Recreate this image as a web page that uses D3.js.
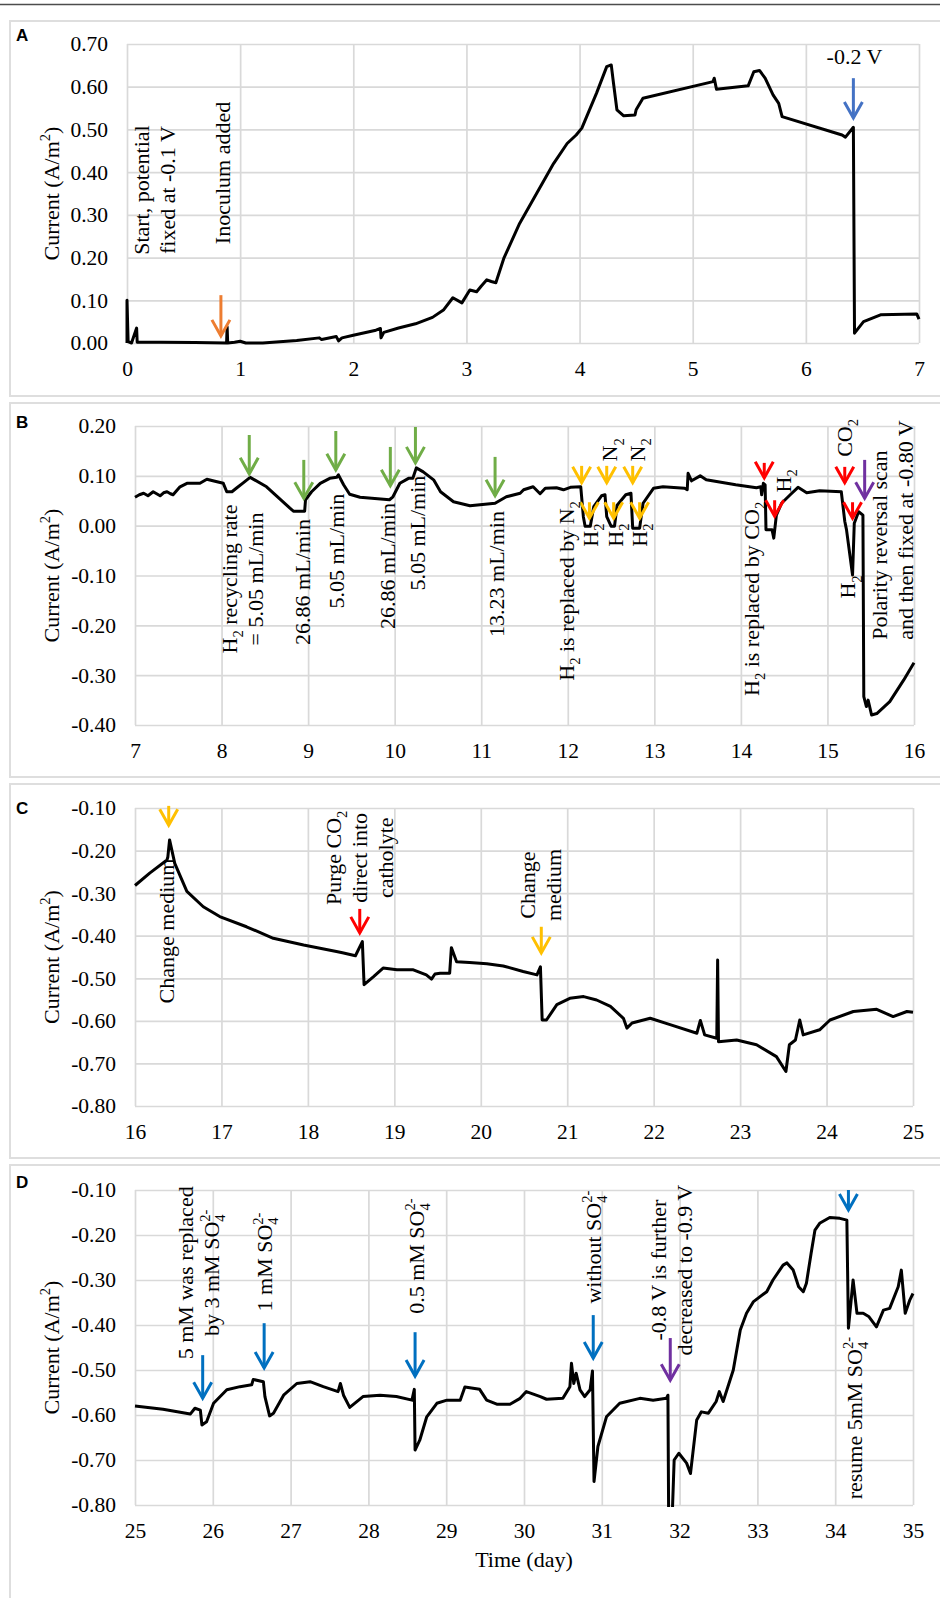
<!DOCTYPE html>
<html>
<head>
<meta charset="utf-8">
<script src="https://cdn.jsdelivr.net/npm/d3@7"></script>
<style>
  html, body { margin: 0; padding: 0; background: #fff; }
  svg { display: block; }
</style>
</head>
<body>
<script>
// ---------- Panel A: start-up (days 0-7) ----------
const aDays = [0, 0.0, 0.01, 0.04, 0.085, 0.09, 0.3, 0.6, 0.88, 0.885, 0.89, 0.95, 1.0, 1.05, 1.2, 1.5, 1.7, 1.72, 1.85, 1.87, 1.9, 2.0, 2.2, 2.24, 2.245, 2.27, 2.4, 2.55, 2.7, 2.8, 2.88, 2.96, 3.03, 3.09, 3.13, 3.18, 3.22, 3.26, 3.33, 3.47, 3.62, 3.77, 3.89, 3.97, 4.02, 4.15, 4.24, 4.28, 4.30, 4.33, 4.39, 4.49, 4.50, 4.56, 5.18, 5.19, 5.21, 5.49, 5.54, 5.59, 5.64, 5.71, 5.76, 5.79, 6.32, 6.35, 6.42, 6.43, 6.51, 6.66, 6.98, 7.0];
const aCurrent = [0, 0.10, 0.003, 0.0, 0.035, 0.002, 0.002, 0.001, 0.0, 0.038, 0.0, 0.002, 0.004, 0.0, 0.0, 0.006, 0.012, 0.008, 0.015, 0.005, 0.012, 0.018, 0.03, 0.034, 0.012, 0.025, 0.035, 0.045, 0.06, 0.078, 0.106, 0.094, 0.124, 0.12, 0.133, 0.148, 0.144, 0.141, 0.198, 0.28, 0.35, 0.42, 0.467, 0.487, 0.503, 0.585, 0.647, 0.651, 0.608, 0.546, 0.532, 0.534, 0.546, 0.573, 0.612, 0.62, 0.594, 0.602, 0.635, 0.638, 0.62, 0.581, 0.561, 0.53, 0.487, 0.482, 0.505, 0.023, 0.05, 0.066, 0.068, 0.056];

// ---------- Panel B: gas-recycling tests (days 7-16) ----------
const bDays = [7.0, 7.05, 7.1, 7.15, 7.21, 7.25, 7.29, 7.33, 7.37, 7.41, 7.44, 7.52, 7.6, 7.75, 7.83, 7.9, 8.02, 8.06, 8.12, 8.17, 8.25, 8.33, 8.52, 8.79, 8.83, 8.96, 8.97, 9.04, 9.14, 9.25, 9.33, 9.35, 9.41, 9.48, 9.6, 9.94, 9.98, 10.06, 10.16, 10.21, 10.25, 10.33, 10.45, 10.53, 10.68, 10.87, 11.16, 11.29, 11.45, 11.49, 11.6, 11.68, 11.74, 11.87, 11.95, 12.03, 12.15, 12.18, 12.2, 12.26, 12.3, 12.39, 12.43, 12.45, 12.5, 12.54, 12.57, 12.67, 12.73, 12.75, 12.83, 12.87, 12.99, 13.1, 13.35, 13.38, 13.39, 13.43, 13.53, 13.6, 13.94, 14.18, 14.23, 14.24, 14.26, 14.28, 14.29, 14.36, 14.38, 14.41, 14.47, 14.57, 14.66, 14.76, 14.91, 15.16, 15.2, 15.22, 15.29, 15.31, 15.36, 15.41, 15.42, 15.45, 15.47, 15.51, 15.57, 15.72, 15.88, 16.0];
const bCurrent = [0.057, 0.062, 0.065, 0.06, 0.068, 0.064, 0.06, 0.066, 0.068, 0.064, 0.062, 0.078, 0.085, 0.085, 0.093, 0.09, 0.085, 0.068, 0.068, 0.075, 0.086, 0.097, 0.078, 0.035, 0.029, 0.029, 0.052, 0.068, 0.085, 0.095, 0.097, 0.102, 0.082, 0.063, 0.057, 0.052, 0.058, 0.085, 0.095, 0.095, 0.116, 0.108, 0.092, 0.068, 0.048, 0.04, 0.045, 0.058, 0.065, 0.072, 0.078, 0.064, 0.075, 0.076, 0.072, 0.077, 0.078, 0.018, -0.001, -0.001, 0.038, 0.06, 0.062, 0.018, -0.001, -0.001, 0.041, 0.062, 0.065, -0.005, -0.005, 0.045, 0.075, 0.078, 0.075, 0.072, 0.105, 0.09, 0.1, 0.092, 0.082, 0.076, 0.078, 0.062, 0.085, 0.082, -0.008, -0.008, -0.025, 0.021, 0.045, 0.062, 0.077, 0.066, 0.07, 0.068, 0.009, -0.008, -0.099, 0.005, 0.028, 0.021, -0.343, -0.363, -0.35, -0.38, -0.377, -0.353, -0.31, -0.275];

// ---------- Panel C: -0.80 V operation (days 16-25) ----------
const cDays = [16.0, 16.17, 16.37, 16.38, 16.40, 16.46, 16.6, 16.79, 16.98, 17.29, 17.6, 17.95, 18.33, 18.4, 18.55, 18.63, 18.65, 18.76, 18.87, 19.03, 19.22, 19.37, 19.43, 19.47, 19.53, 19.64, 19.66, 19.72, 19.87, 20.07, 20.26, 20.49, 20.65, 20.69, 20.71, 20.76, 20.88, 21.03, 21.19, 21.34, 21.5, 21.65, 21.69, 21.75, 21.96, 22.19, 22.5, 22.54, 22.59, 22.73, 22.74, 22.75, 22.96, 23.19, 23.42, 23.53, 23.57, 23.64, 23.69, 23.73, 23.92, 24.04, 24.31, 24.58, 24.77, 24.93, 25.0];
const cCurrent = [-0.282, -0.253, -0.222, -0.215, -0.175, -0.23, -0.296, -0.332, -0.355, -0.379, -0.406, -0.422, -0.437, -0.44, -0.447, -0.414, -0.515, -0.496, -0.476, -0.48, -0.48, -0.492, -0.502, -0.49, -0.488, -0.488, -0.428, -0.461, -0.463, -0.466, -0.471, -0.484, -0.492, -0.473, -0.598, -0.598, -0.562, -0.547, -0.543, -0.551, -0.566, -0.594, -0.617, -0.605, -0.594, -0.609, -0.629, -0.599, -0.633, -0.641, -0.457, -0.649, -0.645, -0.656, -0.684, -0.719, -0.656, -0.645, -0.598, -0.633, -0.621, -0.598, -0.578, -0.573, -0.59, -0.578, -0.58];

// ---------- Panel D: sulfate tests (days 25-35) ----------
const dDays = [25.0, 25.36, 25.71, 25.77, 25.84, 25.86, 25.92, 26.01, 26.18, 26.35, 26.5, 26.52, 26.65, 26.67, 26.73, 26.78, 26.91, 27.08, 27.25, 27.42, 27.61, 27.64, 27.68, 27.76, 27.93, 28.15, 28.36, 28.56, 28.59, 28.6, 28.66, 28.75, 28.88, 29.01, 29.18, 29.24, 29.43, 29.52, 29.65, 29.82, 29.95, 30.03, 30.21, 30.29, 30.5, 30.59, 30.61, 30.64, 30.67, 30.72, 30.78, 30.85, 30.88, 30.9, 30.95, 31.06, 31.23, 31.49, 31.66, 31.83, 31.85, 31.86, 31.9, 31.93, 31.99, 32.09, 32.14, 32.22, 32.28, 32.37, 32.47, 32.51, 32.56, 32.69, 32.78, 32.86, 32.95, 33.12, 33.2, 33.33, 33.38, 33.46, 33.53, 33.59, 33.63, 33.69, 33.74, 33.8, 33.93, 34.06, 34.15, 34.17, 34.23, 34.28, 34.36, 34.43, 34.53, 34.62, 34.7, 34.81, 34.85, 34.9, 34.96, 35.0];
const dCurrent = [-0.58, -0.587, -0.598, -0.585, -0.589, -0.622, -0.615, -0.574, -0.544, -0.537, -0.533, -0.521, -0.526, -0.559, -0.602, -0.596, -0.556, -0.53, -0.526, -0.537, -0.548, -0.53, -0.556, -0.583, -0.559, -0.556, -0.559, -0.567, -0.543, -0.678, -0.656, -0.604, -0.574, -0.567, -0.567, -0.538, -0.543, -0.567, -0.576, -0.576, -0.563, -0.548, -0.559, -0.565, -0.563, -0.537, -0.485, -0.53, -0.507, -0.544, -0.559, -0.544, -0.502, -0.748, -0.67, -0.604, -0.574, -0.563, -0.567, -0.563, -0.556, -0.85, -0.85, -0.70, -0.685, -0.707, -0.73, -0.611, -0.593, -0.596, -0.57, -0.548, -0.57, -0.5, -0.411, -0.374, -0.348, -0.326, -0.3, -0.267, -0.262, -0.278, -0.315, -0.326, -0.307, -0.241, -0.189, -0.174, -0.161, -0.163, -0.167, -0.407, -0.3, -0.374, -0.374, -0.381, -0.404, -0.367, -0.363, -0.315, -0.278, -0.374, -0.344, -0.33];

// ---------- Axis ticks ----------
const aXTicks = [0, 1, 2, 3, 4, 5, 6, 7];
const aYTicks = [0, 0.1, 0.2, 0.3, 0.4, 0.5, 0.6, 0.7];
const bXTicks = [7, 8, 9, 10, 11, 12, 13, 14, 15, 16];
const bYTicks = [-0.4, -0.3, -0.2, -0.1, 0, 0.1, 0.2];
const cXTicks = [16, 17, 18, 19, 20, 21, 22, 23, 24, 25];
const cYTicks = [-0.8, -0.7, -0.6, -0.5, -0.4, -0.3, -0.2, -0.1];
const dXTicks = [25, 26, 27, 28, 29, 30, 31, 32, 33, 34, 35];
const dYTicks = [-0.8, -0.7, -0.6, -0.5, -0.4, -0.3, -0.2, -0.1];

// ---------- Event arrows (day, current at tail, current at tip) ----------
const aArrows = [
  { day: 0.83, from: 0.112, to: 0.012, kind: "orange" },
  { day: 6.42, from: 0.62, to: 0.522, kind: "steel" }
];
const bArrows = [
  { day: 8.32, from: 0.182, to: 0.10, kind: "green" },
  { day: 8.95, from: 0.132, to: 0.051, kind: "green" },
  { day: 9.32, from: 0.19, to: 0.108, kind: "green" },
  { day: 9.95, from: 0.158, to: 0.076, kind: "green" },
  { day: 10.24, from: 0.198, to: 0.122, kind: "green" },
  { day: 11.16, from: 0.138, to: 0.056, kind: "green" },
  { day: 12.16, from: 0.12, to: 0.082, kind: "gold" },
  { day: 12.45, from: 0.12, to: 0.082, kind: "gold" },
  { day: 12.75, from: 0.12, to: 0.082, kind: "gold" },
  { day: 12.25, from: 0.047, to: 0.011, kind: "gold" },
  { day: 12.53, from: 0.047, to: 0.011, kind: "gold" },
  { day: 12.83, from: 0.047, to: 0.011, kind: "gold" },
  { day: 14.27, from: 0.126, to: 0.092, kind: "red" },
  { day: 14.39, from: 0.051, to: 0.015, kind: "red" },
  { day: 15.20, from: 0.118, to: 0.082, kind: "red" },
  { day: 15.29, from: 0.047, to: 0.011, kind: "red" },
  { day: 15.43, from: 0.132, to: 0.051, kind: "purple" }
];
const cArrows = [
  { day: 16.39, from: -0.095, to: -0.145, kind: "gold" },
  { day: 18.60, from: -0.337, to: -0.398, kind: "red" },
  { day: 20.70, from: -0.379, to: -0.445, kind: "gold" }
];
const dArrows = [
  { day: 25.87, from: -0.467, to: -0.567, kind: "blue" },
  { day: 26.66, from: -0.396, to: -0.50, kind: "blue" },
  { day: 28.60, from: -0.416, to: -0.518, kind: "blue" },
  { day: 30.89, from: -0.378, to: -0.478, kind: "blue" },
  { day: 31.88, from: -0.429, to: -0.527, kind: "purple" },
  { day: 34.17, from: -0.10, to: -0.149, kind: "blue" }
];

// ---------- Event notes (_{..} subscript, ^{..} superscript) ----------
const aNotes = [
  { day: 0.243, value: 0.358, lines: ["Start, potential", "fixed at -0.1 V"] },
  { day: 0.849, value: 0.398, lines: ["Inoculum added"] },
  { day: 6.43, value: 0.653, lines: ["-0.2 V"], flat: true }
];
const bNotes = [
  { day: 8.24, value: -0.107, lines: ["H_{2} recycling rate", "= 5.05 mL/min"] },
  { day: 8.94, value: -0.113, lines: ["26.86 mL/min"] },
  { day: 9.33, value: -0.051, lines: ["5.05 mL/min"] },
  { day: 9.92, value: -0.081, lines: ["26.86 mL/min"] },
  { day: 10.27, value: -0.015, lines: ["5.05 mL/min"] },
  { day: 11.18, value: -0.097, lines: ["13.23 mL/min"] },
  { day: 11.99, value: -0.131, lines: ["H_{2} is replaced by N_{2}"] },
  { day: 12.26, value: -0.019, lines: ["H_{2}"] },
  { day: 12.55, value: -0.019, lines: ["H_{2}"] },
  { day: 12.83, value: -0.019, lines: ["H_{2}"] },
  { day: 12.49, value: 0.152, lines: ["N_{2}"] },
  { day: 12.81, value: 0.152, lines: ["N_{2}"] },
  { day: 14.12, value: -0.147, lines: ["H_{2} is replaced by CO_{2}"] },
  { day: 14.49, value: 0.09, lines: ["H_{2}"] },
  { day: 15.20, value: 0.176, lines: ["CO_{2}"] },
  { day: 15.24, value: -0.123, lines: ["H_{2}"] },
  { day: 15.75, value: -0.229, lines: ["Polarity reversal scan", "and then fixed at -0.80 V"], start: true }
];
const cNotes = [
  { day: 16.37, value: -0.389, lines: ["Change medium"] },
  { day: 18.60, value: -0.217, lines: ["Purge CO_{2}", "direct into", "catholyte"] },
  { day: 20.69, value: -0.281, lines: ["Change", "medium"] }
];
const dNotes = [
  { day: 25.82, value: -0.284, lines: ["5 mM was replaced", "by 3 mM SO_{4}^{2-}"] },
  { day: 26.67, value: -0.26, lines: ["1 mM SO_{4}^{2-}"] },
  { day: 28.62, value: -0.247, lines: ["0.5 mM SO_{4}^{2-}"] },
  { day: 30.89, value: -0.227, lines: ["without SO_{4}^{2-}"] },
  { day: 31.90, value: -0.278, lines: ["-0.8 V is further", "decreased to -0.9 V"] },
  { day: 34.25, value: -0.607, lines: ["resume 5mM SO_{4}^{2-}"] }
];

// ---------- Styling ----------
const SERIF = "'Liberation Serif', 'Times New Roman', serif";
const SANS = "'Liberation Sans', Arial, sans-serif";
const FS_TICK = 21.5, FS_NOTE = 22, FS_TITLE = 22, LINE_GAP = 26;
const arrowColors = {
  orange: "#ed7d31", steel: "#4472c4", green: "#70ad47", gold: "#ffc000",
  red: "#ff0000", purple: "#7030a0", blue: "#0070c0"
};
const GRID = "#d9d9d9";

const W = 940, H = 1598;
const svg = d3.select("body").append("svg")
  .attr("width", W).attr("height", H)
  .attr("font-family", SERIF);

// page rule along the top
svg.append("line").attr("x1", 0).attr("x2", W).attr("y1", 4.5).attr("y2", 4.5)
  .attr("stroke", "#4d4d4d").attr("stroke-width", 1.5);

// write a string containing _{sub} / ^{sup} markup into a <text>
function rich(text, str, fs) {
  const re = /_\{([^}]*)\}|\^\{([^}]*)\}/g;
  const small = fs * 0.66;
  let last = 0, m, shift = 0, subW = 0;
  while ((m = re.exec(str)) !== null) {
    if (m.index > last) {
      text.append("tspan").attr("dy", -shift).attr("font-size", fs).text(str.slice(last, m.index));
      shift = 0; subW = 0;
    }
    if (m[1] !== undefined) {
      text.append("tspan").attr("dy", fs * 0.28 - shift).attr("font-size", small).text(m[1]);
      shift = fs * 0.28; subW = small * 0.5 * m[1].length;
    } else {
      text.append("tspan").attr("dx", -subW).attr("dy", -fs * 0.4 - shift).attr("font-size", small).text(m[2]);
      shift = -fs * 0.4; subW = 0;
    }
    last = re.lastIndex;
  }
  if (last < str.length) {
    text.append("tspan").attr("dy", -shift).attr("font-size", fs).text(str.slice(last));
  }
}

function drawPanel(p) {
  const x = d3.scaleLinear().domain(p.xDomain).range([p.left, p.right]);
  const y = d3.scaleLinear().domain(p.yDomain).range([p.bottom, p.top]);

  // frame around the panel
  svg.append("rect")
    .attr("x", 10).attr("y", p.boxTop)
    .attr("width", W).attr("height", p.boxBottom - p.boxTop)
    .attr("fill", "none").attr("stroke", "#dedede").attr("stroke-width", 2);

  // panel letter
  svg.append("text").attr("x", 16).attr("y", p.letterY)
    .attr("font-family", SANS).attr("font-weight", "bold").attr("font-size", 17)
    .text(p.letter);

  // grid + tick labels
  const gx = svg.append("g").attr("transform", `translate(0,${p.bottom})`)
    .call(d3.axisBottom(x).tickValues(p.xTicks)
      .tickSize(-(p.bottom - p.top)).tickPadding(18).tickFormat(d3.format("d")));
  const gy = svg.append("g").attr("transform", `translate(${p.left},0)`)
    .call(d3.axisLeft(y).tickValues(p.yTicks)
      .tickSize(-(p.right - p.left)).tickPadding(19).tickFormat(d => d.toFixed(2)));
  [gx, gy].forEach(g => {
    g.attr("font-size", null).attr("font-family", null);
    g.select(".domain").remove();
    g.selectAll(".tick line").attr("stroke", GRID).attr("stroke-width", 1.7);
    g.selectAll(".tick text").attr("font-size", FS_TICK).attr("font-family", SERIF).attr("fill", "#000");
  });

  // current trace
  const clipId = "plot-" + p.letter;
  svg.append("clipPath").attr("id", clipId).append("rect")
    .attr("x", p.left - 2).attr("y", p.top - 3)
    .attr("width", p.right - p.left + 5).attr("height", p.bottom - p.top + 5);
  svg.append("path")
    .datum(d3.zip(p.days, p.current))
    .attr("clip-path", `url(#${clipId})`)
    .attr("d", d3.line().x(d => x(d[0])).y(d => y(d[1])))
    .attr("fill", "none").attr("stroke", "#000")
    .attr("stroke-width", 3).attr("stroke-linejoin", "round");

  // event arrows
  p.arrows.forEach(a => {
    const ax = x(a.day), y1 = y(a.from), y2 = y(a.to) - 2;
    const g = svg.append("g").attr("stroke", arrowColors[a.kind])
      .attr("stroke-width", 3).attr("fill", "none");
    g.append("line").attr("x1", ax).attr("x2", ax).attr("y1", y1).attr("y2", y2);
    g.append("polyline").attr("points", `${ax - 9},${y2 - 16} ${ax},${y2} ${ax + 9},${y2 - 16}`);
  });

  // event notes
  p.notes.forEach(n => {
    const cx = x(n.day), cy = y(n.value);
    if (n.flat) {
      const t = svg.append("text").attr("x", cx).attr("y", cy)
        .attr("text-anchor", "middle").attr("font-size", FS_NOTE);
      rich(t, n.lines[0], FS_NOTE);
      return;
    }
    n.lines.forEach((ln, i) => {
      const lx = cx + (i - (n.lines.length - 1) / 2) * LINE_GAP + FS_NOTE * 0.33;
      const t = svg.append("text")
        .attr("transform", `translate(${lx},${cy}) rotate(-90)`)
        .attr("text-anchor", n.start ? "start" : "middle")
        .attr("font-size", FS_NOTE);
      rich(t, ln, FS_NOTE);
    });
  });

  // y-axis title
  const yt = svg.append("text")
    .attr("transform", `translate(${52 + FS_TITLE * 0.33},${(p.top + p.bottom) / 2}) rotate(-90)`)
    .attr("text-anchor", "middle").attr("font-size", FS_TITLE);
  rich(yt, "Current (A/m^{2})", FS_TITLE);

  if (p.xTitle) {
    svg.append("text").attr("x", (p.left + p.right) / 2).attr("y", p.bottom + 62)
      .attr("text-anchor", "middle").attr("font-size", FS_TITLE).text(p.xTitle);
  }
}

drawPanel({
  letter: "A", letterY: 41, boxTop: 21, boxBottom: 396,
  left: 127, right: 919, top: 44, bottom: 343,
  xDomain: [0, 7], yDomain: [0, 0.7], xTicks: aXTicks, yTicks: aYTicks,
  days: aDays, current: aCurrent, arrows: aArrows, notes: aNotes
});
drawPanel({
  letter: "B", letterY: 428, boxTop: 403, boxBottom: 777,
  left: 135, right: 914, top: 426, bottom: 725,
  xDomain: [7, 16], yDomain: [-0.4, 0.2], xTicks: bXTicks, yTicks: bYTicks,
  days: bDays, current: bCurrent, arrows: bArrows, notes: bNotes
});
drawPanel({
  letter: "C", letterY: 814, boxTop: 784, boxBottom: 1158,
  left: 135, right: 913, top: 808, bottom: 1106,
  xDomain: [16, 25], yDomain: [-0.8, -0.1], xTicks: cXTicks, yTicks: cYTicks,
  days: cDays, current: cCurrent, arrows: cArrows, notes: cNotes
});
drawPanel({
  letter: "D", letterY: 1188, boxTop: 1165, boxBottom: 1640,
  left: 135, right: 913, top: 1190, bottom: 1505,
  xDomain: [25, 35], yDomain: [-0.8, -0.1], xTicks: dXTicks, yTicks: dYTicks,
  days: dDays, current: dCurrent, arrows: dArrows, notes: dNotes,
  xTitle: "Time (day)"
});
</script>
</body>
</html>
